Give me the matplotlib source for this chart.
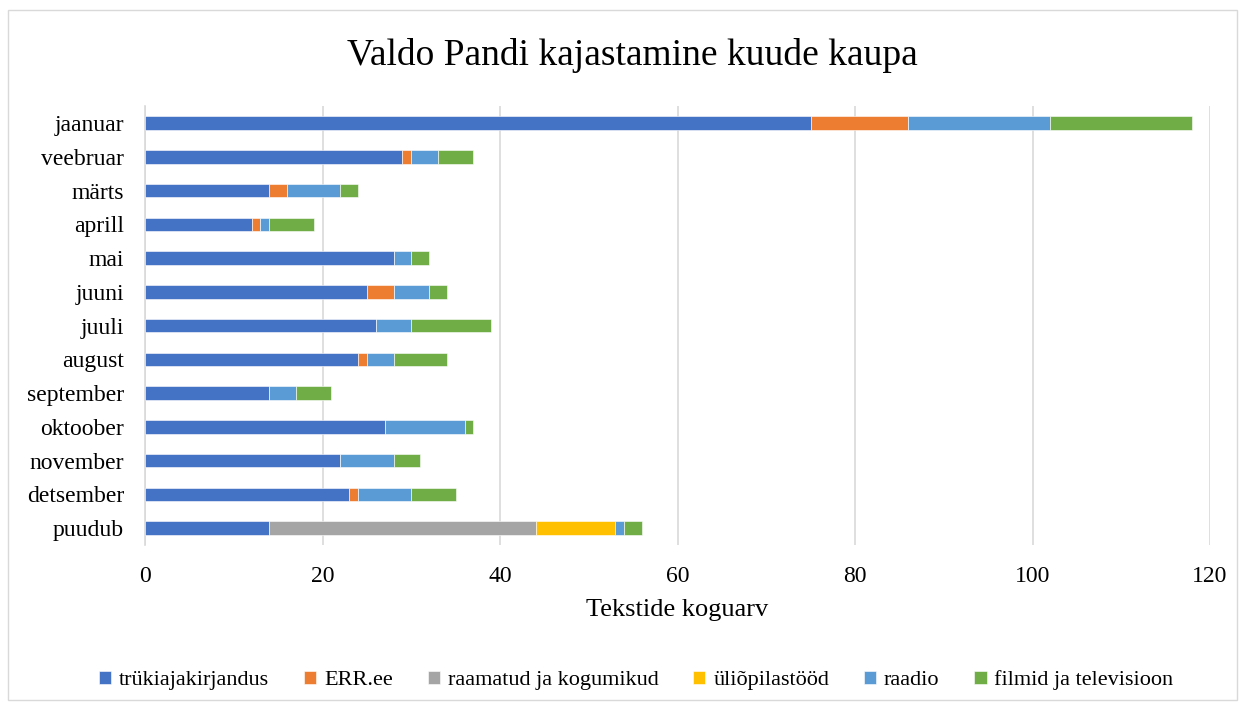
import matplotlib.pyplot as plt
import numpy as np
from matplotlib.patches import Rectangle

plt.rcParams['font.family'] = ['Liberation Serif', 'DejaVu Serif']

months = ["jaanuar", "veebruar", "märts", "aprill", "mai", "juuni", "juuli",
          "august", "september", "oktoober", "november", "detsember", "puudub"]

series_names = ["trükiajakirjandus", "ERR.ee", "raamatud ja kogumikud",
                "üliõpilastööd", "raadio", "filmid ja televisioon"]

trukiajakirjandus = [75, 29, 14, 12, 28, 25, 26, 24, 14, 27, 22, 23, 14]
err_ee = [11, 1, 2, 1, 0, 3, 0, 1, 0, 0, 0, 1, 0]
raamatud = [0, 0, 0, 0, 0, 0, 0, 0, 0, 0, 0, 0, 30]
uliopilastood = [0, 0, 0, 0, 0, 0, 0, 0, 0, 0, 0, 0, 9]
raadio = [16, 3, 6, 1, 2, 4, 4, 3, 3, 9, 6, 6, 1]
filmid = [16, 4, 2, 5, 2, 2, 9, 6, 4, 1, 3, 5, 2]

colors = ["#4472C4", "#ED7D31", "#A5A5A5", "#FFC000", "#5B9BD5", "#70AD47"]

fig = plt.figure(figsize=(12.45, 7.08), dpi=100)
ax = fig.add_axes([0.1165, 0.2302, 0.8554, 0.6198])

# outer chart border
fig.patches.append(Rectangle((0.0065, 0.012), 0.987, 0.974, transform=fig.transFigure,
                             fill=False, edgecolor="#D9D9D9", linewidth=1))

y = np.arange(len(months))
left = np.zeros(len(months))
for name, vals, col in zip(series_names,
                           [trukiajakirjandus, err_ee, raamatud, uliopilastood, raadio, filmid],
                           colors):
    vals = np.array(vals, dtype=float)
    ax.barh(y, vals, left=left, height=0.4, color=col, label=name,
            edgecolor="white", linewidth=0.4, zorder=3)
    left += vals

ax.set_xlim(0, 120)
ax.set_ylim(len(months) - 0.5, -0.5)
ax.set_xticks(range(0, 121, 20))
ax.set_yticks(y)
ax.set_yticklabels(months)
ax.tick_params(length=0, labelsize=17, colors="#000000")
ax.tick_params(axis="x", pad=15)
ax.tick_params(axis="y", pad=15)
ax.grid(axis="x", color="#D9D9D9", linewidth=1.2, zorder=0)
for s in ["top", "right", "bottom"]:
    ax.spines[s].set_visible(False)
ax.spines["left"].set_color("#D9D9D9")
ax.spines["left"].set_linewidth(1.2)

ax.set_xlabel("Tekstide koguarv", fontsize=19, labelpad=9)
fig.text(0.508, 0.922, "Valdo Pandi kajastamine kuude kaupa", ha="center", va="center",
         fontsize=27)

fig.legend(loc="center", bbox_to_anchor=(0.511, 0.039), ncol=6, frameon=False,
           fontsize=16, handlelength=0.55, handleheight=0.55, columnspacing=1.57,
           handletextpad=0.35)

plt.savefig("out.png", dpi=100)
